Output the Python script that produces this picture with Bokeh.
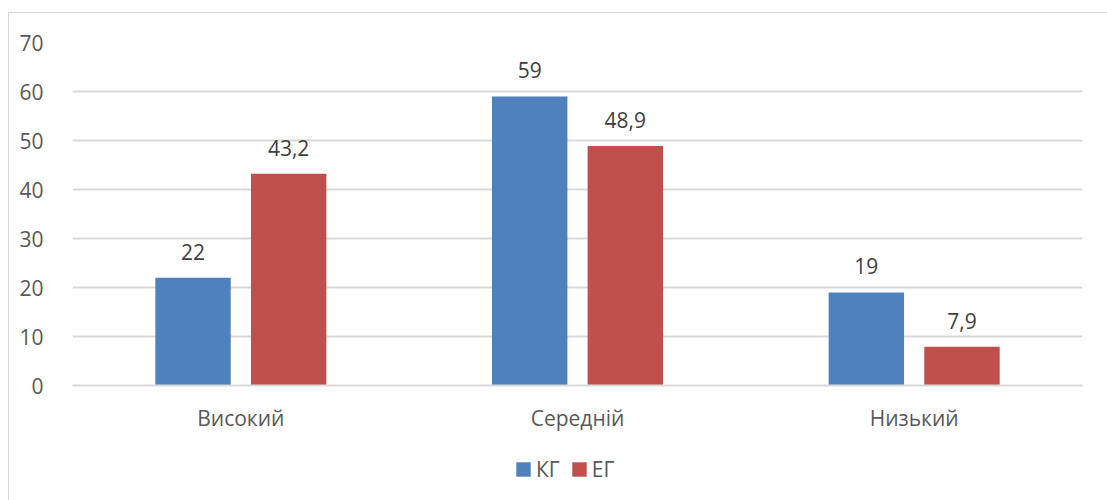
from bokeh.plotting import figure
from bokeh.models import ColumnDataSource, LabelSet, Legend, LegendItem, FactorRange
from bokeh.layouts import column
from bokeh.transform import dodge
from bokeh.core.properties import value
from bokeh.embed import file_html
from bokeh.resources import INLINE

categories = ["Високий", "Середній", "Низький"]
kg = [22, 59, 19]
eg = [43.2, 48.9, 7.9]
series_names = ["КГ", "ЕГ"]
y_ticks = [0, 10, 20, 30, 40, 50, 60, 70]

def fmt(v):
    return (str(int(v)) if float(v).is_integer() else str(v)).replace(".", ",")

src = ColumnDataSource(dict(
    cat=categories, kg=kg, eg=eg,
    kg_lab=[fmt(v) for v in kg], eg_lab=[fmt(v) for v in eg],
))

FONT = "Open Sans"
TXT = "#595959"
FS = "21px"
BLUE = "#4F81BD"
RED = "#C0504D"

p = figure(width=1107, height=440, x_range=FactorRange(*categories), y_range=(0, 70),
           output_backend="svg", toolbar_location=None,
           min_border_left=72, min_border_right=25, min_border_top=42, min_border_bottom=55)
p.outline_line_color = None
p.border_fill_color = None
p.background_fill_color = None

p.vbar(x=dodge("cat", -0.142, range=p.x_range), top="kg", width=0.224, source=src,
       fill_color=BLUE, line_color=None)
p.vbar(x=dodge("cat", 0.142, range=p.x_range), top="eg", width=0.224, source=src,
       fill_color=RED, line_color=None)

for col, lab, off in (("kg", "kg_lab", -0.142), ("eg", "eg_lab", 0.142)):
    ls = LabelSet(x=dodge("cat", off, range=p.x_range), y=col, text=lab, source=src,
                  text_align="center", text_baseline="bottom", y_offset=18,
                  text_font=value(FONT), text_font_size=FS, text_color="#404040")
    p.add_layout(ls)

p.yaxis.ticker = y_ticks
p.yaxis.axis_line_color = None
p.yaxis.major_tick_line_color = None
p.yaxis.minor_tick_line_color = None
p.yaxis.major_label_text_font = FONT
p.yaxis.major_label_text_font_size = FS
p.yaxis.major_label_text_color = TXT
p.yaxis.major_label_standoff = 23

p.xaxis.axis_line_color = "#d9d9d9"
p.xaxis.axis_line_width = 2
p.xaxis.major_tick_line_color = None
p.xaxis.minor_tick_line_color = None
p.xaxis.major_label_text_font = FONT
p.xaxis.major_label_text_font_size = FS
p.xaxis.major_label_text_color = TXT
p.xaxis.major_label_standoff = 12

p.xgrid.grid_line_color = None
p.ygrid.grid_line_color = "#d9d9d9"
p.ygrid.grid_line_width = 2

# legend strip (dummy swatches kept outside the visible range)
lg = figure(width=1107, height=60, x_range=(0, 1), y_range=(0, 1),
            output_backend="svg", toolbar_location=None,
            x_axis_type=None, y_axis_type=None, min_border=0)
lg.outline_line_color = None
lg.border_fill_color = None
lg.background_fill_color = None
lg.xgrid.grid_line_color = None
lg.ygrid.grid_line_color = None
dummy = ColumnDataSource(dict(x=[-10], top=[-10]))
d1 = lg.vbar(x="x", top="top", width=0.1, source=dummy, fill_color=BLUE, line_color=None)
d2 = lg.vbar(x="x", top="top", width=0.1, source=dummy, fill_color=RED, line_color=None)
legend = Legend(items=[LegendItem(label=series_names[0], renderers=[d1], index=0),
                       LegendItem(label=series_names[1], renderers=[d2], index=0)],
                orientation="horizontal", location=(442, 17),
                label_text_font=FONT, label_text_font_size=FS, label_text_color=TXT,
                glyph_width=18, glyph_height=18, label_standoff=4, spacing=10,
                border_line_color=None, background_fill_alpha=0, margin=0, padding=0)
lg.add_layout(legend, "center")

layout = column(p, lg, spacing=0, styles={
    "background": "linear-gradient(#d9d9d9,#d9d9d9) 8px 12px / 1px 100% no-repeat, "
                  "linear-gradient(#d9d9d9,#d9d9d9) 8px 12px / 100% 1px no-repeat, #ffffff"
})

open("out.html", "w").write(file_html(layout, INLINE))
